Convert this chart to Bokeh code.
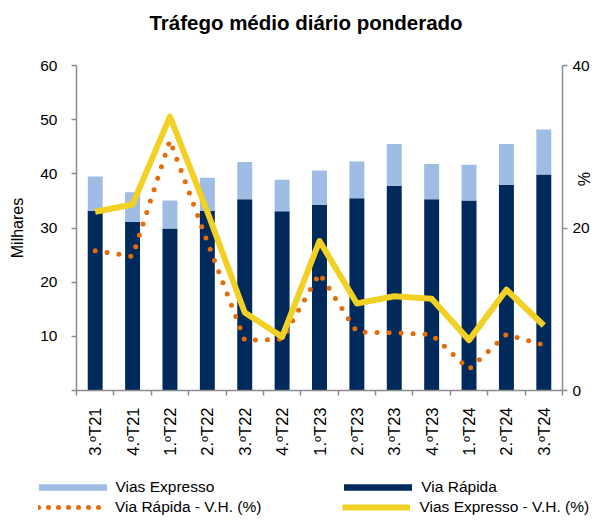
from bokeh.plotting import figure
from bokeh.models import (ColumnDataSource, Range1d, LinearAxis, FixedTicker,
                          Legend, LegendItem, Label)
from bokeh.layouts import column
from bokeh.embed import file_html
from bokeh.resources import INLINE
from math import pi

# ---------------- data ----------------
title_text = "Tráfego médio diário ponderado"
categories = ["3.ºT21", "4.ºT21", "1.ºT22", "2.ºT22", "3.ºT22", "4.ºT22", "1.ºT23",
              "2.ºT23", "3.ºT23", "4.ºT23", "1.ºT24", "2.ºT24", "3.ºT24"]
via_rapida = [33.2, 31.1, 29.9, 33.2, 35.3, 33.1, 34.3, 35.5, 37.8, 35.3, 35.1, 38.0, 39.9]
vias_expresso = [6.3, 5.5, 5.2, 6.1, 6.9, 5.8, 6.3, 6.8, 7.7, 6.5, 6.6, 7.5, 8.3]
via_rapida_vh = [17.2, 16.5, 30.8, 18.3, 6.2, 6.3, 14.4, 7.2, 7.1, 6.9, 2.6, 6.9, 5.6]
vias_expresso_vh = [22.0, 22.9, 33.7, 22.0, 9.6, 6.6, 18.4, 10.7, 11.6, 11.3, 6.2, 12.4, 8.0]
left_ticks = [0, 10, 20, 30, 40, 50, 60]
right_ticks = [0, 20, 40]

FONT = "Liberation Sans"
DARK = "#002A5C"
LIGHT = "#9FBDE4"
ORANGE = "#E46C0A"
YELLOW = "#F2D024"
AXIS = "#8C8C8C"
NBSP = "\u00a0"

n = len(categories)
xs = list(range(n))
src = ColumnDataSource(dict(x=xs, via_rapida=via_rapida, vias_expresso=vias_expresso,
                            rvh=via_rapida_vh, evh=vias_expresso_vh))


def strip(height):
    f = figure(width=594, height=height, output_backend="svg", toolbar_location=None,
               x_range=Range1d(-100, -99), y_range=Range1d(0, 1),
               min_border_left=0, min_border_right=0, min_border_top=0,
               min_border_bottom=0, x_axis_location=None, y_axis_location=None)
    f.outline_line_color = None
    f.grid.visible = False
    f.border_fill_color = "white"
    f.background_fill_color = "white"
    f.frame_align = False
    return f


# ---------------- title strip ----------------
tt = strip(40)
tt.add_layout(Label(x=305.5, y=18, x_units="screen", y_units="screen", text=title_text,
                    text_align="center", text_baseline="middle", text_font=FONT,
                    text_font_size="20.5px", text_font_style="bold",
                    text_color="black"))

# ---------------- main chart ----------------
p = figure(width=594, height=425, output_backend="svg", toolbar_location=None,
           x_range=Range1d(-0.5, n - 0.5), y_range=Range1d(0, 60),
           min_border_left=76, min_border_right=28, min_border_top=25,
           min_border_bottom=75)
p.frame_align = False
p.extra_y_ranges = {"pct": Range1d(0, 40)}
p.outline_line_color = None
p.grid.visible = False
p.background_fill_color = "white"
p.border_fill_color = "white"

bars = p.vbar_stack(["via_rapida", "vias_expresso"], x="x", width=0.4,
                    color=[DARK, LIGHT], line_color=None, source=src)

orange = p.line("x", "rvh", source=src, y_range_name="pct", line_color=ORANGE,
                line_width=5, line_dash="0 12", line_cap="round")
yellow = p.line("x", "evh", source=src, y_range_name="pct", line_color=YELLOW,
                line_width=6, line_join="round")


def style_axis(ax):
    ax.axis_line_color = AXIS
    ax.axis_line_width = 1.5
    ax.major_tick_line_color = AXIS
    ax.major_tick_line_width = 1.5
    ax.minor_tick_line_color = AXIS
    ax.minor_tick_line_width = 1.5
    ax.major_label_text_font = FONT
    ax.major_label_text_font_size = "15.5px"
    ax.major_label_text_color = "black"
    ax.axis_label_text_font = FONT
    ax.axis_label_text_font_size = "16px"
    ax.axis_label_text_font_style = "normal"
    ax.axis_label_text_color = "black"


# x axis
xa = p.xaxis[0]
style_axis(xa)
xa.ticker = FixedTicker(ticks=xs, minor_ticks=[i - 0.5 for i in range(n + 1)])
xa.major_label_overrides = {i: c for i, c in zip(xs, categories)}
xa.major_label_orientation = pi / 2
xa.major_label_text_font_size = "16.5px"
xa.major_tick_out = 0
xa.major_tick_in = 0
xa.minor_tick_out = 5
xa.minor_tick_in = 0
xa.major_label_standoff = 12

# left axis
ya = p.yaxis[0]
style_axis(ya)
ya.ticker = FixedTicker(ticks=left_ticks)
ya.major_label_overrides = {0: ""}
ya.major_tick_out = 5
ya.major_tick_in = 0
ya.minor_tick_out = 0
ya.minor_tick_in = 0
ya.major_label_standoff = 14
ya.axis_label = "Milhares"
ya.axis_label_standoff = 11

# right axis
ra = LinearAxis(y_range_name="pct", ticker=FixedTicker(ticks=right_ticks))
style_axis(ra)
ra.major_tick_out = 5
ra.major_tick_in = 0
ra.minor_tick_out = 0
ra.minor_tick_in = 0
ra.major_label_standoff = 5
ra.axis_label = "%" + NBSP * 22
ra.axis_label_standoff = -18
p.add_layout(ra, "right")

# ---------------- legend strip ----------------
lg = strip(50)
k_light = lg.vbar(x="x", top="vias_expresso", width=0.4, color=LIGHT, line_color=None,
                  source=src)
k_dark = lg.vbar(x="x", top="via_rapida", width=0.4, color=DARK, line_color=None,
                 source=src)
k_orange = lg.line(x="x", y="rvh", line_color=ORANGE, line_width=5, line_dash="0 10",
                   line_cap="round", source=src)
k_yellow = lg.line(x="x", y="evh", line_color=YELLOW, line_width=6, source=src)

common = dict(orientation="horizontal", padding=0, margin=0, border_line_color=None,
              background_fill_alpha=0, label_text_font=FONT,
              label_text_font_size="15.5px", label_text_color="black")
leg1 = Legend(items=[LegendItem(label="Vias Expresso", renderers=[k_light]),
                     LegendItem(label="Via Rápida", renderers=[k_dark])],
              location=(29.5, 19), glyph_width=85, glyph_height=8,
              label_standoff=1, spacing=121, **common)
leg2 = Legend(items=[LegendItem(label="Via Rápida - V.H. (%)", renderers=[k_orange]),
                     LegendItem(label="Vias Expresso - V.H. (%)", renderers=[k_yellow])],
              location=(38, -1), glyph_width=68, glyph_height=8,
              label_standoff=9, spacing=81, **common)
lg.add_layout(leg1)
lg.add_layout(leg2)

layout = column(tt, p, lg, spacing=0)
open("out.html", "w").write(file_html(layout, INLINE))
